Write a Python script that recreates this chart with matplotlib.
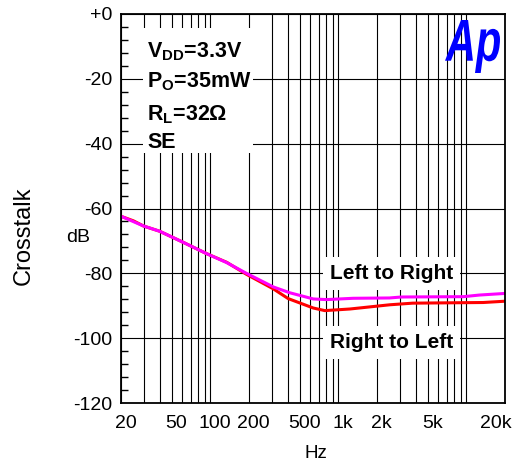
import matplotlib
matplotlib.use("Agg")
import matplotlib.pyplot as plt
from matplotlib.ticker import LogLocator, MultipleLocator, NullFormatter
from matplotlib.transforms import ScaledTranslation, Affine2D
from matplotlib.textpath import TextPath
from matplotlib.font_manager import FontProperties
from matplotlib.patches import PathPatch, Rectangle

plt.rcParams['font.family'] = ['Liberation Sans', 'DejaVu Sans']
plt.rcParams['mathtext.fontset'] = 'custom'
plt.rcParams['mathtext.bf'] = 'Liberation Sans:bold'
plt.rcParams['mathtext.rm'] = 'Liberation Sans:bold'

# Daten
freq_lr = [20, 30, 40, 61, 93, 134, 191, 310, 417, 636, 809, 1300, 2500, 3100, 9450, 12600, 20000]
db_lr = [-62.4, -65.4, -67.0, -70.4, -73.9, -76.7, -80.0, -84.2, -86.0, -87.9, -88.1, -87.7,
         -87.6, -87.3, -87.2, -86.7, -86.2]
freq_rl = [20, 25, 30, 40, 61, 93, 134, 191, 310, 405, 636, 782, 1230, 2520, 3800, 13500, 20000]
db_rl = [-62.4, -63.8, -65.4, -67.0, -70.4, -73.9, -76.6, -80.3, -84.8, -87.8, -90.7, -91.5,
         -91.0, -89.7, -89.2, -89.0, -88.6]

x_ticks = [20, 50, 100, 200, 500, 1000, 2000, 5000, 20000]
x_labels = ['20', '50', '100', '200', '500', '1k', '2k', '5k', '20k']
y_ticks = [0, -20, -40, -60, -80, -100, -120]
y_labels = ['+0', '-20', '-40', '-60', '-80', '-100', '-120']
info_lines = [r'$\mathbf{V_{DD}}$=3.3V', r'$\mathbf{P_{O}}$=35mW', r'$\mathbf{R_{L}}$=32Ω', 'SE']

W, H = 516, 468
fig = plt.figure(figsize=(W / 100, H / 100), dpi=100)
ax = fig.add_axes([121 / W, 1 - 403 / H, 384 / W, 389 / H])

ax.plot(freq_rl, db_rl, color='#ff0000', lw=2.2, zorder=2)
ax.plot(freq_lr, db_lr, color='#ff00ff', lw=2.2, zorder=2.1)

ax.set_xscale('log')
ax.set_xlim(20, 20000)
ax.set_ylim(-120, 0)
ax.xaxis.set_major_locator(LogLocator(base=10))
ax.xaxis.set_minor_locator(LogLocator(base=10, subs=range(2, 10)))
ax.xaxis.set_minor_formatter(NullFormatter())
ax.tick_params(axis='x', which='both', length=0, labelbottom=False)

ax.set_yticks(y_ticks)
ax.set_yticklabels(y_labels)
ax.yaxis.set_minor_locator(MultipleLocator(4))
ax.tick_params(axis='y', which='major', length=0, pad=6, labelsize=14)
ax.tick_params(axis='y', which='minor', direction='in', length=5, width=1, color='black')

ax.set_axisbelow(True)
ax.grid(True, axis='x', which='both', color='black', lw=0.8)
ax.grid(True, axis='y', which='major', color='black', lw=0.8)
for sp in ax.spines.values():
    sp.set_linewidth(1.3)

# x-Beschriftungen
trans_x = ax.get_xaxis_transform()
for i, (v, lab) in enumerate(zip(x_ticks, x_labels)):
    if i == len(x_ticks) - 1:
        off = ScaledTranslation(7 / 100, -12 / 100, fig.dpi_scale_trans)
        ax.text(v, 0, lab, transform=trans_x + off, ha='right', va='top', fontsize=14)
    else:
        off = ScaledTranslation(4.5 / 100, -12 / 100, fig.dpi_scale_trans)
        ax.text(v, 0, lab, transform=trans_x + off, ha='center', va='top', fontsize=14)

fig.text(316 / W, 1 - 453 / H, 'Hz', ha='center', va='center', fontsize=13.5)
fig.text(78 / W, 1 - 238 / H, 'dB', ha='center', va='center', fontsize=14)
fig.text(24 / W, 1 - 236 / H, 'Crosstalk', ha='center', va='center', rotation=90, fontsize=17)

# Infobox
ax.add_patch(Rectangle(((143 - 121) / 384, (403 - 153) / 389), 110 / 384, 125 / 389,
                       transform=ax.transAxes, facecolor='white', edgecolor='none', zorder=3))
base_y = [57.3, 87.3, 120, 148.3]
for txt, by in zip(info_lines, base_y):
    ax.text((147 - 121) / 384, (403 - by) / 389, txt, transform=ax.transAxes,
            ha='left', va='baseline', fontsize=15.5, fontweight='bold', zorder=4)

box = dict(facecolor='white', edgecolor='none', pad=5)
ax.text((330 - 121) / 384, (403 - 279.3) / 389, 'Left to Right', transform=ax.transAxes,
        ha='left', va='baseline', fontsize=15, fontweight='bold', bbox=box, zorder=4)
ax.text((330 - 121) / 384, (403 - 348.3) / 389, 'Right to Left', transform=ax.transAxes,
        ha='left', va='baseline', fontsize=15, fontweight='bold', bbox=box, zorder=4)

# Ap Logo
tp = TextPath((0, 0), 'Ap', size=1,
              prop=FontProperties(family='Liberation Sans', weight='bold', style='italic'))
ext = tp.get_extents()
sx = (55 / W) / ext.width
sy = (53 / H) / ext.height
tr = Affine2D().translate(-ext.x0, -ext.y0).scale(sx, sy).translate(445 / W, 1 - 73 / H)
fig.patches.append(PathPatch(tp, transform=tr + fig.transFigure, facecolor='#0000ff',
                             edgecolor='none', zorder=5))

fig.savefig('out.png', dpi=100)
